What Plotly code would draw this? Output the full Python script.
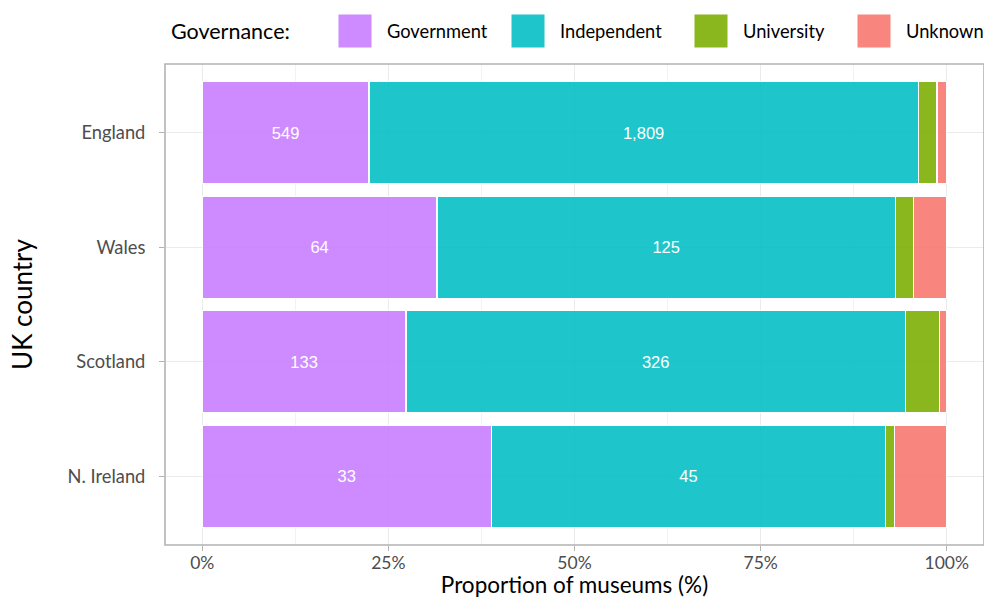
import plotly.graph_objects as go

countries = ["England", "Wales", "Scotland", "N. Ireland"]
governance = ["Government", "Independent", "University", "Unknown"]
government = [549, 64, 133, 33]
independent = [1809, 125, 326, 45]
university = [62, 5, 22, 1]
unknown = [32, 9, 5, 6]
colors = ["#C77CFF", "#00BFC4", "#7CAE00", "#F8766D"]
labelled = ["Government", "Independent"]

series = [government, independent, university, unknown]
totals = [sum(s[i] for s in series) for i in range(len(countries))]

W, H = 984, 598
ML, MR, MT, MB = 165, 0, 64, 53
PW, PH = W - ML - MR, H - MT - MB

def px(x):
    return (x - ML) / PW

def py(y):
    return (H - MB - y) / PH

fig = go.Figure()
for name, vals, col in zip(governance, series, colors):
    props = [v / t for v, t in zip(vals, totals)]
    txt = [f"{v:,}" for v in vals] if name in labelled else None
    fig.add_trace(go.Bar(
        y=countries, x=props, orientation="h", name=name,
        marker=dict(color=col, opacity=0.88, line=dict(color="white", width=1.2)),
        text=txt, textposition="inside", insidetextanchor="middle",
        textfont=dict(color="white", size=16.5, family="Liberation Sans, Arial"),
        showlegend=False, hoverinfo="x+y+name",
    ))

shapes = [dict(type="rect", xref="paper", yref="paper", x0=0, x1=1, y0=0, y1=1,
               line=dict(color="#B3B3B3", width=1.6), fillcolor="rgba(0,0,0,0)", layer="above")]
annotations = [dict(text="Governance:", xref="paper", yref="paper", x=px(169), y=py(31),
                    xanchor="left", yanchor="middle", showarrow=False,
                    font=dict(size=21.5, color="black", family="Lato"))]
key_x = [338, 511, 694, 857]
for name, col, kx in zip(governance, colors, key_x):
    shapes.append(dict(type="rect", xref="paper", yref="paper", x0=px(kx), x1=px(kx + 34),
                       y0=py(48), y1=py(14), fillcolor=col, opacity=0.88,
                       line=dict(color="white", width=1)))
    annotations.append(dict(text=name, xref="paper", yref="paper", x=px(kx + 47), y=py(31),
                            xanchor="left", yanchor="middle", showarrow=False,
                            font=dict(size=18.3, color="black", family="Lato")))

fig.update_layout(
    width=W, height=H, barmode="stack", bargap=0.11,
    margin=dict(l=ML, r=MR, t=MT, b=MB),
    plot_bgcolor="white", paper_bgcolor="white",
    font=dict(family="Lato", color="#4D4D4D"),
    shapes=shapes, annotations=annotations,
    xaxis=dict(range=[-0.05, 1.05], tickvals=[0, 0.25, 0.5, 0.75, 1],
               tickformat=".0%", showgrid=True, gridcolor="#EBEBEB", gridwidth=1.1,
               minor=dict(dtick=0.125, tick0=0, showgrid=True, gridcolor="#F2F2F2", gridwidth=0.6),
               ticks="outside", ticklen=5, tickcolor="#B3B3B3", tickwidth=1,
               ticklabelstandoff=-3,
               tickfont=dict(size=17.5, color="#4D4D4D"), zeroline=False, showline=False,
               title=dict(text="Proportion of museums (%)", font=dict(size=22.5, color="black"), standoff=9)),
    yaxis=dict(categoryorder="array", categoryarray=countries[::-1], range=[-0.6, 3.6],
               showgrid=True, gridcolor="#EBEBEB", gridwidth=1.1,
               ticks="outside", ticklen=5, tickcolor="#B3B3B3", tickwidth=1,
               ticklabelstandoff=10,
               tickfont=dict(size=18.3, color="#4D4D4D"), zeroline=False, showline=False,
               title=dict(text="UK country", font=dict(size=26, color="black"), standoff=27)),
)

fig.write_html("out.html", config={"displayModeBar": False},
               post_script="document.body.style.margin='0';document.body.style.overflow='hidden';")
